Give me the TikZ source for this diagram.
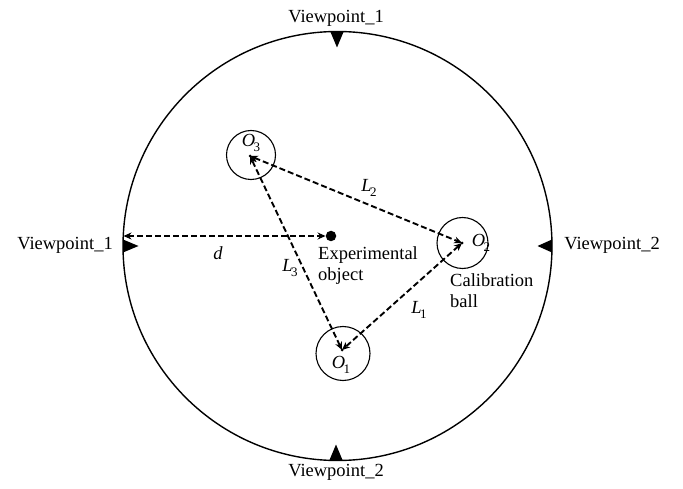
\documentclass[tikz,border=0pt]{standalone}
\usepackage{fontspec}
\setmainfont{Liberation Serif}
\usetikzlibrary{arrows.meta}
\newcommand{\sublab}[2]{\textit{#1}\kern-0.08em\raisebox{-0.3em}{\fontsize{13}{13}\selectfont #2}}
\tikzset{
  txt/.style={font=\fontsize{18.5}{21}\selectfont, inner sep=0pt},
  dline/.style={line width=1.9pt, dash pattern=on 6pt off 3pt, {Stealth[length=8pt,width=7pt]}-{Stealth[length=8pt,width=7pt]}},
  ball/.style={draw, line width=1.1pt},
  marker/.style={fill=black},
}
\begin{document}
\begin{tikzpicture}[x=1pt,y=-1pt]
\useasboundingbox (0,0) rectangle (683,489);
% big circle
\coordinate (C) at (337.5,246);
\draw[line width=1.4pt] (C) circle[radius=214.5];
% viewpoint markers
\fill[marker] (330.5,32) -- (343.5,32) -- (337,47.5) -- cycle;
\fill[marker] (329.5,460) -- (342.5,460) -- (336,444.5) -- cycle;
\fill[marker] (123,239.5) -- (123,252.5) -- (138.5,246) -- cycle;
\fill[marker] (552,239.5) -- (552,252.5) -- (537.5,246) -- cycle;
% viewpoint labels
\node[txt] (vt) at (336,18) {Viewpoint\_1};
\node[txt] (vb) at (336,472) {Viewpoint\_2};
\node[txt] (vl) at (65,245) {Viewpoint\_1};
\node[txt] (vr) at (612,245) {Viewpoint\_2};
% calibration balls
\coordinate (O3) at (250,156);
\coordinate (O2) at (462,243);
\coordinate (O1) at (342,350);
\draw[ball] (251,155) circle[radius=24.5];
\draw[ball] (462.5,243) circle[radius=25.5];
\draw[ball] (343,353.5) circle[radius=27];
\fill (O3) circle[radius=1.5];
\fill (O2) circle[radius=1.5];
\fill (O1) circle[radius=1.5];
\node[txt] (o3l) at (251,143) {\sublab{O}{3}};
\node[txt] (o2l) at (481,243) {\sublab{O}{2}};
\node[txt] (o1l) at (341,365) {\sublab{O}{1}};
% triangle connections
\draw[dline] (O3) -- (O2);
\draw[dline] (O2) -- (O1);
\draw[dline] (O1) -- (O3);
\node[txt] (l2) at (369,188) {\sublab{L}{2}};
\node[txt] (l1) at (419,310) {\sublab{L}{1}};
\node[txt] (l3) at (290,268) {\sublab{L}{3}};
% experimental object
\node[circle, fill=black, minimum size=10.5pt, inner sep=0pt] (obj) at (331,236) {};
\coordinate (edge) at (123.5,236);
\draw[dline] (edge) -- (obj.west);
\node[txt] (d) at (218,253) {\textit{d}};
\node[txt, anchor=north west, align=left] (objl) at (318,246) {Experimental\\object};
\node[txt, anchor=north west, align=left] (cal) at (450,273) {Calibration\\ball};
\end{tikzpicture}
\end{document}
